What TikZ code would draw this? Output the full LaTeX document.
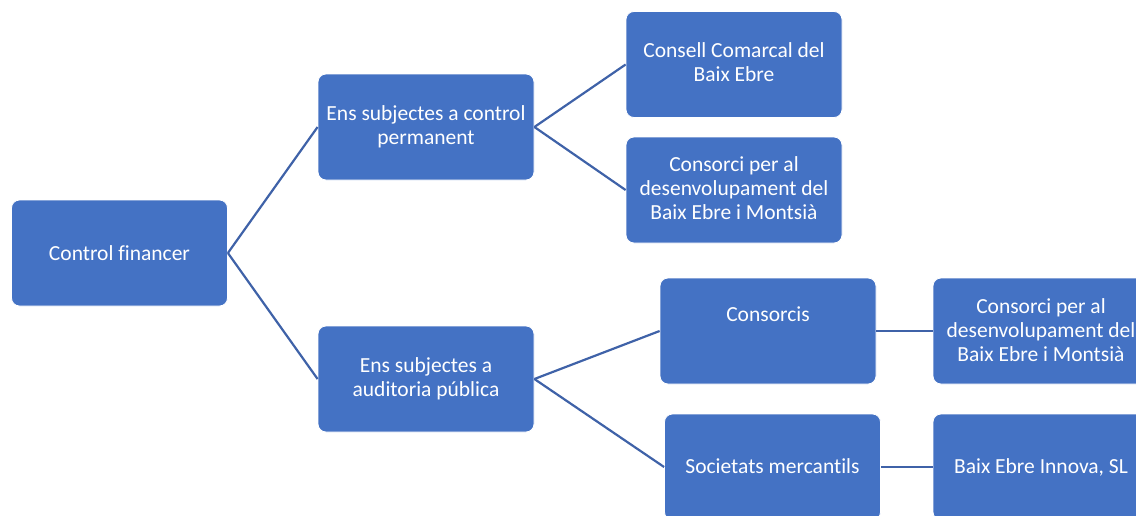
\documentclass[tikz,border=0pt]{standalone}
\usepackage{fontspec}
\setmainfont{Carlito}[Ligatures=NoCommon]
\definecolor{boxblue}{HTML}{4472C4}
\definecolor{lineblue}{HTML}{3F62A8}
\begin{document}
\begin{tikzpicture}[x=1pt,y=-1pt,
  box/.style={rectangle, rounded corners=8pt, fill=boxblue, draw=white, line width=0.8pt,
    minimum width=216pt, minimum height=106pt, inner sep=0pt},
  txt/.style={text=white, align=center, font=\fontsize{21.5}{24}\selectfont, inner sep=0pt},
  conn/.style={draw=lineblue, line width=2.2pt}]
\useasboundingbox (0,0) rectangle (1136,515);
\clip (0,0) rectangle (1136,515);
\node[box] (cf) at (119.5,253) {};
\node[txt] at (cf.center) {Control financer};
\node[box] (e1) at (426,127) {};
\node[txt] at (e1.center) {Ens subjectes a control\\permanent};
\node[box] (e2) at (426,379) {};
\node[txt] at (e2.center) {Ens subjectes a\\auditoria pública};
\node[box] (cc) at (734,64.5) {};
\node[txt] at (734,62.5) {Consell Comarcal del\\Baix Ebre};
\node[box] (cd) at (734,190) {};
\node[txt] at (734,188) {Consorci per al\\desenvolupament del\\Baix Ebre i Montsià};
\node[box] (cs) at (768,331) {};
\node[txt] at (768,314) {Consorcis};
\node[box] (sm) at (772.5,467) {};
\node[txt] at (772.5,466) {Societats mercantils};
\node[box] (cd2) at (1041,331) {};
\node[txt] at (1041,330) {Consorci per al\\desenvolupament del\\Baix Ebre i Montsià};
\node[box] (bi) at (1041,467) {};
\node[txt] at (1041,467) {Baix Ebre Innova, SL};
\draw[conn] (cf.east) -- (e1.west);
\draw[conn] (cf.east) -- (e2.west);
\draw[conn] (e1.east) -- (cc.west);
\draw[conn] (e1.east) -- (cd.west);
\draw[conn] (e2.east) -- (cs.west);
\draw[conn] (e2.east) -- (sm.west);
\draw[conn] (cs.east) -- (cd2.west);
\draw[conn] (sm.east) -- (bi.west);
\end{tikzpicture}
\end{document}
